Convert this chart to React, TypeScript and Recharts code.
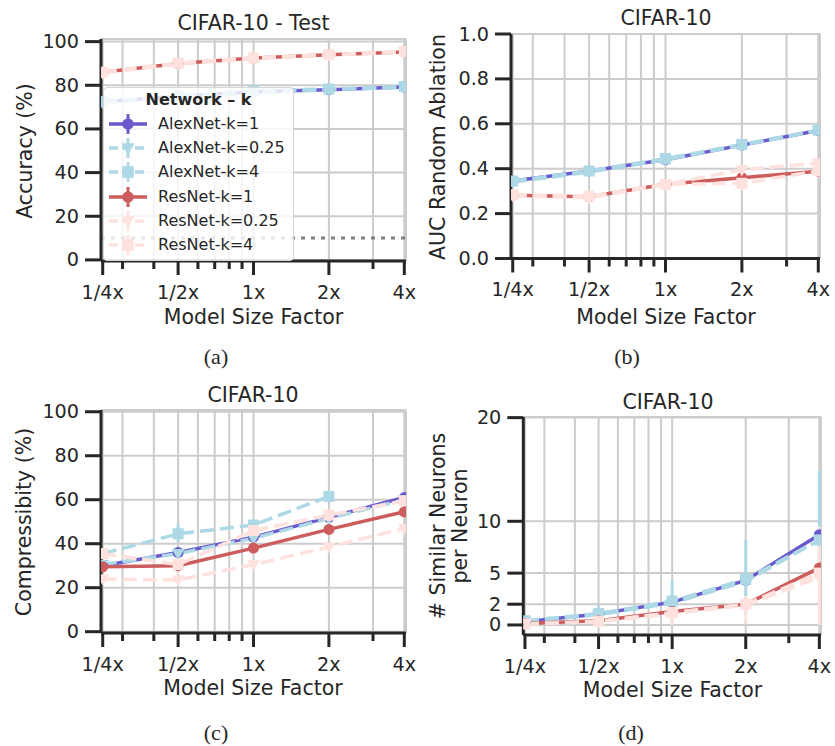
import React from 'react'
import { CartesianGrid, ErrorBar, Line, LineChart, ReferenceLine, XAxis, YAxis } from 'recharts'

const INK = '#262626'
const GRID = '#cccccc'
const SANS = '"DejaVu Sans", Verdana, sans-serif'
const SERIF = '"Liberation Serif", "Times New Roman", serif'

const sizeFactors = [0.25, 0.5, 1, 2, 4]
const sizeLabels = ['1/4x', '1/2x', '1x', '2x', '4x']
const minorFactors = [0.3, 0.4, 0.6, 0.7, 0.8, 0.9, 3]
const xTicks = [...sizeFactors, ...minorFactors].sort((a, b) => a - b)
const xDomain = [0.2461, 4.063]

const seriesKeys = ['a1', 'a025', 'a4', 'r1', 'r025', 'r4']
const seriesNames = ['AlexNet-k=1', 'AlexNet-k=0.25', 'AlexNet-k=4', 'ResNet-k=1', 'ResNet-k=0.25', 'ResNet-k=4']
const seriesColors = ['#6a5acd', '#add8e6', '#add8e6', '#cd5c5c', '#ffe2de', '#ffe2de']
const seriesDashes = ['', '14 6', '14 6', '', '14 6', '14 6']
const seriesMarkers = ['circle', 'triangle', 'square', 'circle', 'triangle', 'square']

// (a) test accuracy
const accAlexK1 = [72.5, 75, 77, 78, 79.2]
const accAlexK025 = [72, 74.5, 76.5, 78, 79]
const accAlexK4 = [72.5, 75.2, 77.5, 78.3, 79.4]
const accResK1 = [86, 90, 92.5, 94, 95.3]
const accResK025 = [85.5, 89.8, 92.3, 93.8, 95.2]
const accResK4 = [86, 90.2, 92.6, 94, 95.5]
const accErrAlexK4 = [[0, 0], [0, 0], [1, 1], [1.5, 1.5], [1, 1]]
const accErrResK4 = [[1.5, 1.5], [2, 2], [2.5, 2.5], [2.5, 2.5], [2, 2]]
const chanceLevel = 10
const accTicks = [0, 20, 40, 60, 80, 100]

// (b) AUC random ablation
const aucAlexK1 = [0.345, 0.39, 0.44, 0.505, 0.57]
const aucAlexK025 = [0.34, 0.385, 0.44, 0.505, 0.57]
const aucAlexK4 = [0.345, 0.39, 0.445, 0.508, 0.572]
const aucResK1 = [0.282, 0.275, 0.331, 0.36, 0.389]
const aucResK025 = [0.28, 0.27, 0.33, 0.395, 0.425]
const aucResK4 = [0.285, 0.278, 0.33, 0.335, 0.39]
const aucErrAlexK4 = [[0.01, 0.01], [0.015, 0.015], [0.02, 0.02], [0.01, 0.01], [0.01, 0.01]]
const aucErrResK4 = [[0.01, 0.01], [0.01, 0.01], [0.01, 0.01], [0.03, 0.03], [0.03, 0.03]]
const aucTicks = [0, 0.2, 0.4, 0.6, 0.8, 1]

// (c) compressibility
const compAlexK1 = [30, 36, 43, 52, 61]
const compAlexK025 = [30.5, 35.5, 42.5, 51.5, 60]
const compAlexK4 = [35.5, 44.5, 48.5, 61.5, null]
const compResK1 = [29.5, 30, 38, 46.5, 54.5]
const compResK025 = [24, 23.5, 30.5, 38.5, 47]
const compResK4 = [35.5, 30.5, 46, 53, 59.5]
const compErrAlexK4 = [[0, 0], [3.7, 4.7], [1.5, 1.5], [1, 1], [0, 0]]
const compErrResK4 = [[2, 2], [4.5, 4.5], [1.5, 1.5], [1, 1], [1, 1]]
const compTicks = [0, 20, 40, 60, 80, 100]

// (d) similar neurons per neuron
const simAlexK1 = [0.3, 1.05, 2.2, 4.3, 8.7]
const simAlexK025 = [0.3, 1.0, 2.1, 4.2, 8.2]
const simAlexK4 = [0.4, 1.1, 2.3, 4.4, 8.2]
const simResK1 = [0.15, 0.4, 1.3, 2.0, 5.5]
const simResK025 = [0.1, 0.3, 1.1, 1.9, 4.6]
const simResK4 = [0.1, 0.35, 1.2, 2.0, 5.0]
const simErrAlexK4 = [[0, 0.5], [0.5, 0.8], [2.2, 2], [3.3, 3.8], [3, 6.7]]
const simErrResK4 = [[0, 0], [0.3, 0.3], [1.2, 0.8], [1.8, 0.8], [5, 4.5]]
const simTicks = [0, 2, 5, 10, 20]

function buildRows(values: (number | null)[][], errors: Record<string, number[][]>) {
  return sizeFactors.map((x, i) => {
    const row: any = { x }
    seriesKeys.forEach((k, s) => { row[k] = values[s][i] })
    Object.keys(errors).forEach(k => { row[k + 'Err'] = errors[k][i] })
    return row
  })
}

function Marker({ shape, cx, cy, color, s = 1 }: any) {
  if (shape === 'circle') return <circle cx={cx} cy={cy} r={5.5 * s} fill={color} />
  if (shape === 'triangle') {
    const d = 6.5 * s
    return <polygon points={`${cx - d},${cy - d * 0.7} ${cx + d},${cy - d * 0.7} ${cx},${cy + d}`} fill={color} />
  }
  const h = 5.5 * s
  return <rect x={cx - h} y={cy - h} width={h * 2} height={h * 2} fill={color} />
}

const dotFor = (s: number) => (p: any) => {
  if (p.cx == null || p.cy == null || p.value == null) return <g key={`n${p.index}`} />
  return <Marker key={`m${p.index}`} shape={seriesMarkers[s]} cx={p.cx} cy={p.cy} color={seriesColors[s]} />
}

function XTick({ x, y, payload }: any) {
  const idx = sizeFactors.indexOf(payload.value)
  const major = idx >= 0
  return (
    <g>
      <line x1={x} x2={x} y1={y} y2={y + (major ? 14 : 8)} stroke={INK} strokeWidth={3} />
      {major && (
        <text x={x} y={y + 31} textAnchor="middle" dominantBaseline="central" fontSize={19.2} fontFamily={SANS} fill={INK}>
          {sizeLabels[idx]}
        </text>
      )}
    </g>
  )
}

const YTick = (fmt: (v: number) => string) => ({ x, y, payload }: any) => (
  <g>
    <line x1={x - 16} x2={x} y1={y} y2={y} stroke={INK} strokeWidth={3} />
    <text x={x - 22} y={y} textAnchor="end" dominantBaseline="central" fontSize={19.2} fontFamily={SANS} fill={INK}>
      {fmt(payload.value)}
    </text>
  </g>
)

type PanelProps = {
  left: number
  top: number
  width: number
  height: number
  margin: { top: number; right: number; bottom: number; left: number }
  rows: any[]
  yDomain: number[]
  yTicks: number[]
  yFmt: (v: number) => string
  errKeys: string[]
  chance?: number
}

function Panel({ left, top, width, height, margin, rows, yDomain, yTicks, yFmt, errKeys, chance }: PanelProps) {
  const frame = { stroke: INK, strokeWidth: 3 }
  return (
    <div style={{ position: 'absolute', left, top }}>
      <LineChart width={width} height={height} data={rows} margin={margin}>
        <CartesianGrid stroke={GRID} strokeWidth={2} />
        <XAxis
          dataKey="x"
          type="number"
          scale="log"
          domain={xDomain}
          allowDataOverflow
          ticks={xTicks}
          interval={0}
          tickSize={0}
          tickMargin={0}
          tickLine={false}
          axisLine={frame}
          height={30}
          tick={XTick}
        />
        <XAxis xAxisId="top" orientation="top" type="number" domain={[0, 1]} height={0} tick={false} tickLine={false} axisLine={frame} />
        <YAxis
          type="number"
          domain={yDomain}
          allowDataOverflow
          ticks={yTicks}
          interval={0}
          tickSize={0}
          tickMargin={0}
          tickLine={false}
          axisLine={frame}
          width={50}
          tick={YTick(yFmt)}
        />
        <YAxis yAxisId="right" orientation="right" type="number" domain={[0, 1]} width={0} tick={false} tickLine={false} axisLine={frame} />
        {chance != null && <ReferenceLine y={chance} stroke="#808080" strokeWidth={3} strokeDasharray="4 6" />}
        {seriesKeys.map((k, s) => (
          <Line
            key={k}
            dataKey={k}
            stroke={seriesColors[s]}
            strokeWidth={3.5}
            strokeDasharray={seriesDashes[s] || undefined}
            dot={dotFor(s)}
            activeDot={false}
            isAnimationActive={false}
          >
            {errKeys.includes(k) && (
              <ErrorBar dataKey={k + 'Err'} direction="y" width={0} strokeWidth={3} stroke={seriesColors[s]} />
            )}
          </Line>
        ))}
      </LineChart>
    </div>
  )
}

function Text({ x, y, size = 20.5, rotate, family = SANS, children }: any) {
  return (
    <div
      style={{
        position: 'absolute',
        left: x,
        top: y,
        transform: `translate(-50%, -50%)${rotate ? ' rotate(-90deg)' : ''}`,
        fontSize: size,
        fontFamily: family,
        color: INK,
        whiteSpace: 'nowrap',
        textAlign: 'center',
        lineHeight: '22px',
      }}
    >
      {children}
    </div>
  )
}

function LegendBox() {
  return (
    <div
      style={{
        position: 'absolute',
        left: 103,
        top: 87,
        width: 189,
        height: 172,
        background: 'rgba(255,255,255,0.8)',
        border: '1px solid #d6d6d6',
        borderRadius: 4,
        fontFamily: SANS,
        color: INK,
      }}
    >
      <div style={{ position: 'absolute', left: 0, right: 0, top: 2, textAlign: 'center', fontWeight: 'bold', fontSize: 16, lineHeight: '20px' }}>
        Network – k
      </div>
      {seriesNames.map((name, s) => (
        <div key={name} style={{ position: 'absolute', left: 4, top: 25 + s * 24.2, height: 22, display: 'flex', alignItems: 'center' }}>
          <svg width={40} height={22} style={{ display: 'block' }}>
            <line x1={1} x2={39} y1={11} y2={11} stroke={seriesColors[s]} strokeWidth={3.5} strokeDasharray={seriesDashes[s] ? '9 4' : undefined} />
            <line x1={20} x2={20} y1={1} y2={21} stroke={seriesColors[s]} strokeWidth={3} />
            <Marker shape={seriesMarkers[s]} cx={20} cy={11} color={seriesColors[s]} s={1.05} />
          </svg>
          <span style={{ marginLeft: 10, fontSize: 16, lineHeight: '22px', whiteSpace: 'nowrap' }}>{name}</span>
        </div>
      ))}
    </div>
  )
}

const pct = (v: number) => String(v)
const dec1 = (v: number) => v.toFixed(1)

export default function App() {
  const accRows = buildRows([accAlexK1, accAlexK025, accAlexK4, accResK1, accResK025, accResK4], { a4: accErrAlexK4, r4: accErrResK4 })
  const aucRows = buildRows([aucAlexK1, aucAlexK025, aucAlexK4, aucResK1, aucResK025, aucResK4], { a4: aucErrAlexK4, r4: aucErrResK4 })
  const compRows = buildRows([compAlexK1, compAlexK025, compAlexK4, compResK1, compResK025, compResK4], { a4: compErrAlexK4, r4: compErrResK4 })
  const simRows = buildRows([simAlexK1, simAlexK025, simAlexK4, simResK1, simResK025, simResK4], { a4: simErrAlexK4, r4: simErrResK4 })

  return (
    <div style={{ position: 'absolute', left: 0, top: 0, width: 835, height: 746, background: '#fff', overflow: 'hidden' }}>
      <Panel
        left={0} top={0} width={420} height={315}
        margin={{ top: 39, right: 14, bottom: 24, left: 51 }}
        rows={accRows} yDomain={[-0.5, 101.2]} yTicks={accTicks} yFmt={pct}
        errKeys={['a4', 'r4']} chance={chanceLevel}
      />
      <Panel
        left={410} top={0} width={425} height={315}
        margin={{ top: 34, right: 15, bottom: 26.5, left: 51 }}
        rows={aucRows} yDomain={[0, 1]} yTicks={aucTicks} yFmt={dec1}
        errKeys={['a4', 'r4']}
      />
      <Panel
        left={0} top={370} width={420} height={330}
        margin={{ top: 40, right: 14, bottom: 37, left: 51 }}
        rows={compRows} yDomain={[-0.6, 100.8]} yTicks={compTicks} yFmt={pct}
        errKeys={['a4', 'r4']}
      />
      <Panel
        left={410} top={370} width={425} height={330}
        margin={{ top: 47, right: 14, bottom: 35, left: 63.3 }}
        rows={simRows} yDomain={[-0.97, 20.06]} yTicks={simTicks} yFmt={pct}
        errKeys={['a4', 'r4']}
      />

      <LegendBox />

      <Text x={253.5} y={23}>CIFAR-10 - Test</Text>
      <Text x={666} y={18}>CIFAR-10</Text>
      <Text x={253} y={395}>CIFAR-10</Text>
      <Text x={668} y={402}>CIFAR-10</Text>

      <Text x={25} y={151} rotate>Accuracy (%)</Text>
      <Text x={438} y={147} rotate>AUC Random Ablation</Text>
      <Text x={24} y={522} rotate>Compressibity (%)</Text>
      <Text x={449} y={526} rotate># Similar Neurons<br />per Neuron</Text>

      <Text x={253.5} y={317}>Model Size Factor</Text>
      <Text x={666} y={317}>Model Size Factor</Text>
      <Text x={253} y={688}>Model Size Factor</Text>
      <Text x={672.5} y={690}>Model Size Factor</Text>

      <Text x={216} y={357} size={22} family={SERIF}>(a)</Text>
      <Text x={627} y={357} size={22} family={SERIF}>(b)</Text>
      <Text x={216} y={733} size={22} family={SERIF}>(c)</Text>
      <Text x={631} y={733} size={22} family={SERIF}>(d)</Text>
    </div>
  )
}
